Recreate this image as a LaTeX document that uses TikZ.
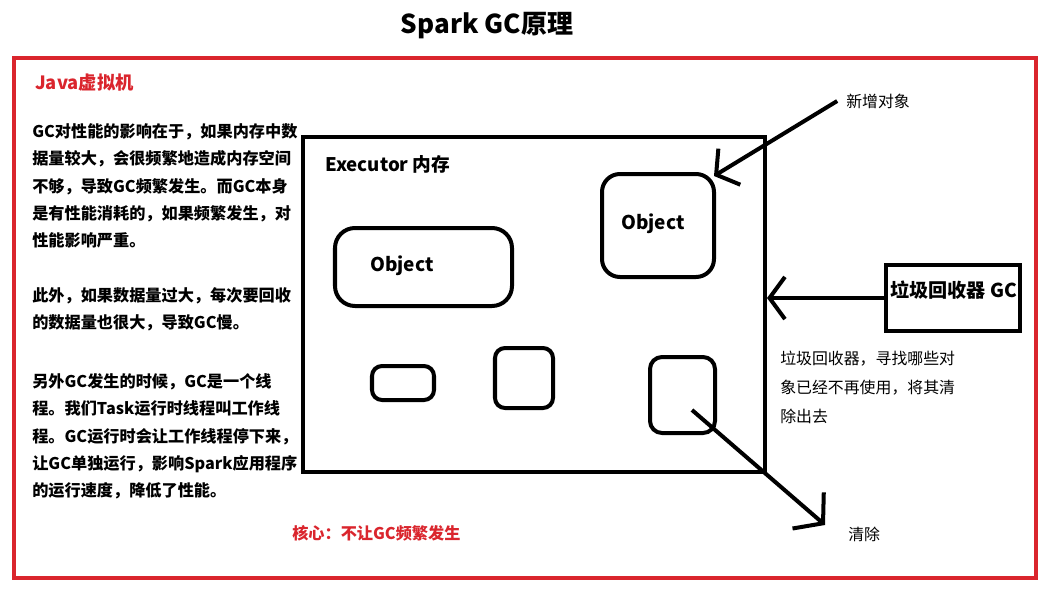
\documentclass[tikz,border=0pt]{standalone}
\usepackage{fontspec}
\setmainfont{Noto Sans CJK SC}
\usetikzlibrary{arrows.meta,fit}
\definecolor{jvmred}{RGB}{218,37,45}

\begin{document}
\begin{tikzpicture}[x=0.025cm, y=-0.025cm, font=\bfseries\fontsize{11.5}{19.5}\selectfont,
    thick line/.style={line width=2.85pt},
    roundbox/.style={draw, thick line, rounded corners=#1, inner sep=0pt},
    hand arrow/.style={thick line, -{Straight Barb[length=11pt, width=30pt]}},
    txt/.style={anchor=west, inner sep=0pt, align=left}]
    \useasboundingbox (0,0) rectangle (1048,594);
    \fill[white] (0,0) rectangle (1048,594);

    \node (title) at (487,26) {\fontsize{18.5}{22}\selectfont Spark GC原理};

    % --- Java virtual machine frame ---
    \draw[thick line, jvmred] (14,58) rectangle (1036,578);
    \node[txt, text=jvmred] (jvm) at (35,83) {\fontsize{13}{15}\selectfont Java虚拟机};

    % Left explanation
    \node[txt, anchor=north west] (para1) at (32,123) {GC对性能的影响在于，如果内存中数\\
        据量较大，会很频繁地造成内存空间\\
        不够，导致GC频繁发生。而GC本身\\
        是有性能消耗的，如果频繁发生，对\\
        性能影响严重。};
    \node[txt, anchor=north west] (para2) at (32,287) {此外，如果数据量过大，每次要回收\\
        的数据量也很大，导致GC慢。};
    \node[txt, anchor=north west] (para3) at (32,373) {另外GC发生的时候，GC是一个线\\
        程。我们Task运行时线程叫工作线\\
        程。GC运行时会让工作线程停下来，\\
        让GC单独运行，影响Spark应用程序\\
        的运行速度，降低了性能。};
    \node[txt, text=jvmred] (core) at (292,533) {核心：不让GC频繁发生};

    % --- Executor memory ---
    \node[draw, thick line, inner sep=0pt, fit={(303,137) (765,472)}] (exec) {};
    \node[txt] (execlabel) at (325,164) {\fontsize{13.3}{15}\selectfont Executor 内存};
    % Objects
    \node[roundbox=0.5cm, fit={(335,228) (512,306)}] (obj1) {};
    \node[txt] (obj1label) at (370,266) {\fontsize{13.5}{15}\selectfont Object};
    \node[roundbox=0.45cm, fit={(602,174) (714,277)}] (obj2) {};
    \node[txt] (obj2label) at (621,224) {\fontsize{13.5}{15}\selectfont Object};
    \node[roundbox=0.25cm, fit={(372,366) (434,400)}] (small1) {};
    \node[roundbox=0.25cm, fit={(495,348) (553,408)}] (small2) {};
    \node[roundbox=0.3cm, fit={(650,357) (715,433)}] (small3) {};

    % --- Garbage collector ---
    \node[draw, thick line, inner sep=0pt, fit={(886,265) (1020,331)}] (gc) {};
    \node[txt] (gclabel) at (890,290) {\fontsize{13.6}{15}\selectfont 垃圾回收器 GC};
    \node[txt, anchor=north west, font=\mdseries\fontsize{11.3}{20.6}\selectfont] (gcnote) at (780,351)
        {垃圾回收器，寻找哪些对\\象已经不再使用，将其清\\除出去};

    % Arrows
    \node[txt, font=\mdseries\fontsize{11.3}{15}\selectfont] (newobj) at (846,101) {新增对象};
    \draw[hand arrow] ([xshift=-0.22cm]newobj.west) -- ([shift={(-0.05cm,-0.1cm)}]obj2.north east);
    \draw[hand arrow] (gc.west) -- (exec.east |- gc.west);
    \node[txt, font=\mdseries\fontsize{11.3}{15}\selectfont] (clear) at (848,534) {清除};
    \coordinate (cut) at (692,410);
    \coordinate (gone) at (825,525);
    \draw[thick line, -{Straight Barb[length=14pt, width=34pt]}] (cut) -- (gone);
\end{tikzpicture}
\end{document}
